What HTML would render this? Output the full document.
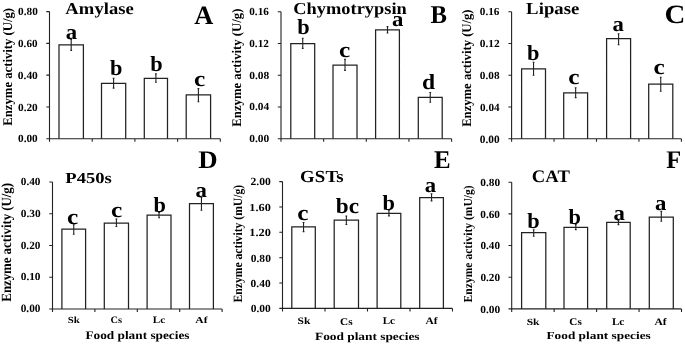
<!DOCTYPE html>
<html><head><meta charset="utf-8"><style>
html,body{margin:0;padding:0;background:#fff;overflow:hidden;}
svg{display:block;will-change:transform;}
#w{width:685px;height:345px;}
text{font-family:"Liberation Serif",serif;font-weight:bold;fill:#000;text-rendering:geometricPrecision;}
path{stroke:#222;stroke-width:1.1;fill:none;}
.bar{stroke-width:1.25;}
</style></head><body>
<div id="w"><svg width="685" height="345" viewBox="0 0 685 345">
<path class="bar" d="M59 138.75V44.9H83.4V138.75M101.5 138.75V83.3H125.7V138.75M144.3 138.75V78.3H167.5V138.75M186.2 138.75V94.8H210.6V138.75"/>
<path d="M49.5 11.6V138.75H220.3M46.3 138.75H49.5M46.3 106.96H49.5M46.3 75.17H49.5M46.3 43.39H49.5M46.3 11.6H49.5M49.5 138.75V141.75M92.2 138.75V141.75M134.9 138.75V141.75M177.6 138.75V141.75M220.3 138.75V141.75M71.2 39.4V50.4M70.3 39.4H72.1M70.3 50.4H72.1M113.6 78.3V88.1M112.7 78.3H114.5M112.7 88.1H114.5M155.9 73.9V82.3M155 73.9H156.8M155 82.3H156.8M198.4 88.6V101.7M197.5 88.6H199.3M197.5 101.7H199.3"/>
<path class="bar" d="M290.8 138.8V43.5H314.7V138.8M333 138.8V65.2H357V138.8M375.6 138.8V29.9H399.4V138.8M418.3 138.8V97.4H442.2V138.8"/>
<path d="M281 11.8V138.8H451.6M277.8 138.8H281M277.8 107.05H281M277.8 75.3H281M277.8 43.55H281M277.8 11.8H281M281 138.8V141.8M323.65 138.8V141.8M366.3 138.8V141.8M408.95 138.8V141.8M451.6 138.8V141.8M302.75 38.2V48.4M301.85 38.2H303.65M301.85 48.4H303.65M345 59.4V70.4M344.1 59.4H345.9M344.1 70.4H345.9M387.5 26.6V33M386.6 26.6H388.4M386.6 33H388.4M430.25 92.5V102.3M429.35 92.5H431.15M429.35 102.3H431.15"/>
<path class="bar" d="M521.6 138.8V68.9H545.5V138.8M563.7 138.8V92.8H587.6V138.8M606.6 138.8V38.5H630.6V138.8M648.7 138.8V84.2H672.8V138.8"/>
<path d="M511.6 11.8V138.8H681.4M508.4 138.8H511.6M508.4 107.05H511.6M508.4 75.3H511.6M508.4 43.55H511.6M508.4 11.8H511.6M511.6 138.8V141.8M554.05 138.8V141.8M596.5 138.8V141.8M638.95 138.8V141.8M681.4 138.8V141.8M533.55 62.3V75.3M532.65 62.3H534.45M532.65 75.3H534.45M575.65 87.7V97.6M574.75 87.7H576.55M574.75 97.6H576.55M618.6 33.7V44.7M617.7 33.7H619.5M617.7 44.7H619.5M660.75 77.3V91.2M659.85 77.3H661.65M659.85 91.2H661.65"/>
<path class="bar" d="M61.9 309V229.2H85.6V309M104.3 309V223.1H128.5V309M147.1 309V215.2H171V309M189.5 309V203.6H213.4V309"/>
<path d="M52.5 182V309H222.1M49.3 309H52.5M49.3 277.25H52.5M49.3 245.5H52.5M49.3 213.75H52.5M49.3 182H52.5M52.5 309V312M94.9 309V312M137.3 309V312M179.7 309V312M222.1 309V312M73.75 224.7V234.3M72.85 224.7H74.65M72.85 234.3H74.65M116.4 219V226.5M115.5 219H117.3M115.5 226.5H117.3M159.05 212.5V217.7M158.15 212.5H159.95M158.15 217.7H159.95M201.45 197.4V210.3M200.55 197.4H202.35M200.55 210.3H202.35"/>
<path class="bar" d="M291.8 308.4V226.8H315.3V308.4M334.2 308.4V220.1H358.5V308.4M377.1 308.4V213.4H400.8V308.4M419.7 308.4V197.6H443.4V308.4"/>
<path d="M282.5 181.6V308.4H452.5M279.3 308.4H282.5M279.3 283.04H282.5M279.3 257.68H282.5M279.3 232.32H282.5M279.3 206.96H282.5M279.3 181.6H282.5M282.5 308.4V311.4M325 308.4V311.4M367.5 308.4V311.4M410 308.4V311.4M452.5 308.4V311.4M303.55 222.5V231.6M302.65 222.5H304.45M302.65 231.6H304.45M346.35 216V224.5M345.45 216H347.25M345.45 224.5H347.25M388.95 210V215.9M388.05 210H389.85M388.05 215.9H389.85M431.55 193.8V200.9M430.65 193.8H432.45M430.65 200.9H432.45"/>
<path class="bar" d="M521.6 308.9V232.7H545.8V308.9M564 308.9V227.3H587.6V308.9M606.7 308.9V222.3H630.2V308.9M649.3 308.9V217.1H673.3V308.9"/>
<path d="M511.7 182.2V308.9H681.5M508.5 308.9H511.7M508.5 277.22H511.7M508.5 245.55H511.7M508.5 213.88H511.7M508.5 182.2H511.7M511.7 308.9V311.9M554.15 308.9V311.9M596.6 308.9V311.9M639.05 308.9V311.9M681.5 308.9V311.9M533.7 229.8V236.2M532.8 229.8H534.6M532.8 236.2H534.6M575.8 224.6V229.6M574.9 224.6H576.7M574.9 229.6H576.7M618.45 220.5V224.6M617.55 220.5H619.35M617.55 224.6H619.35M661.3 211.4V221.2M660.4 211.4H662.2M660.4 221.2H662.2"/>
<g><text id="t0" transform="translate(18.04 142.25) scale(0.05064 0.0500)" style="font-size:221.9px">0.00</text><text id="t1" transform="translate(18.03 110.77) scale(0.05137 0.0500)" style="font-size:218.7px">0.20</text><text id="t2" transform="translate(17.85 78.77) scale(0.05229 0.0500)" style="font-size:217.9px">0.40</text><text id="t3" transform="translate(18.01 46.95) scale(0.05114 0.0500)" style="font-size:218.5px">0.60</text><text id="t4" transform="translate(18.04 14.95) scale(0.05084 0.0500)" style="font-size:222.2px">0.80</text><text id="t5" transform="translate(65.73 38.79) scale(0.05250 0.0500)" style="font-size:432.0px">a</text><text id="t6" transform="translate(110.04 74.81) scale(0.05200 0.0500)" style="font-size:432.0px">b</text><text id="t7" transform="translate(150.21 70.57) scale(0.05200 0.0500)" style="font-size:432.0px">b</text><text id="t8" transform="translate(193.89 85.51) scale(0.05850 0.0500)" style="font-size:432.0px">c</text><text id="t9" transform="translate(65.30 14.36) scale(0.05596 0.0500)" style="font-size:334.3px">Amylase</text><text id="t10" transform="translate(194.21 23.74) scale(0.04941 0.0500)" style="font-size:530.5px">A</text><text id="t11" transform="translate(12.32 125.68) rotate(-90) scale(0.04792 0.0500)" style="font-size:264.9px">Enzyme activity (U/g)</text><text id="t12" transform="translate(249.25 142.01) scale(0.05240 0.0500)" style="font-size:217.4px">0.00</text><text id="t13" transform="translate(249.36 110.25) scale(0.05253 0.0500)" style="font-size:215.8px">0.04</text><text id="t14" transform="translate(249.25 78.56) scale(0.05245 0.0500)" style="font-size:218.0px">0.08</text><text id="t15" transform="translate(249.24 46.73) scale(0.05196 0.0500)" style="font-size:216.8px">0.12</text><text id="t16" transform="translate(249.25 15.01) scale(0.05163 0.0500)" style="font-size:216.5px">0.16</text><text id="t17" transform="translate(297.33 34.27) scale(0.05200 0.0500)" style="font-size:432.0px">b</text><text id="t18" transform="translate(338.91 56.68) scale(0.05850 0.0500)" style="font-size:432.0px">c</text><text id="t19" transform="translate(392.06 26.47) scale(0.05250 0.0500)" style="font-size:432.0px">a</text><text id="t20" transform="translate(421.98 88.62) scale(0.05500 0.0500)" style="font-size:432.0px">d</text><text id="t21" transform="translate(293.13 14.06) scale(0.05490 0.0500)" style="font-size:335.8px">Chymotrypsin</text><text id="t22" transform="translate(430.39 23.13) scale(0.04809 0.0500)" style="font-size:516.5px">B</text><text id="t23" transform="translate(240.63 126.68) rotate(-90) scale(0.04806 0.0500)" style="font-size:264.9px">Enzyme activity (U/g)</text><text id="t24" transform="translate(479.77 142.64) scale(0.05091 0.0500)" style="font-size:223.6px">0.00</text><text id="t25" transform="translate(479.98 110.84) scale(0.05125 0.0500)" style="font-size:219.6px">0.04</text><text id="t26" transform="translate(479.77 79.16) scale(0.05184 0.0500)" style="font-size:218.3px">0.08</text><text id="t27" transform="translate(479.84 47.11) scale(0.05227 0.0500)" style="font-size:216.6px">0.12</text><text id="t28" transform="translate(479.86 15.41) scale(0.05186 0.0500)" style="font-size:216.2px">0.16</text><text id="t29" transform="translate(527.04 60.13) scale(0.05200 0.0500)" style="font-size:432.0px">b</text><text id="t30" transform="translate(568.32 83.56) scale(0.05850 0.0500)" style="font-size:432.0px">c</text><text id="t31" transform="translate(612.50 30.74) scale(0.05250 0.0500)" style="font-size:432.0px">a</text><text id="t32" transform="translate(653.41 74.46) scale(0.05850 0.0500)" style="font-size:432.0px">c</text><text id="t33" transform="translate(526.09 13.97) scale(0.05603 0.0500)" style="font-size:336.0px">Lipase</text><text id="t34" transform="translate(664.38 23.35) scale(0.05465 0.0500)" style="font-size:528.5px">C</text><text id="t35" transform="translate(470.90 126.85) rotate(-90) scale(0.04778 0.0500)" style="font-size:264.9px">Enzyme activity (U/g)</text><text id="t36" transform="translate(20.69 312.40) scale(0.05006 0.0500)" style="font-size:226.1px">0.00</text><text id="t37" transform="translate(20.76 280.38) scale(0.05226 0.0500)" style="font-size:215.6px">0.10</text><text id="t38" transform="translate(20.71 248.69) scale(0.05119 0.0500)" style="font-size:221.2px">0.20</text><text id="t39" transform="translate(20.74 217.21) scale(0.05166 0.0500)" style="font-size:219.6px">0.30</text><text id="t40" transform="translate(20.76 185.22) scale(0.05170 0.0500)" style="font-size:217.5px">0.40</text><text id="t41" transform="translate(66.91 223.56) scale(0.05850 0.0500)" style="font-size:432.0px">c</text><text id="t42" transform="translate(110.91 217.06) scale(0.05850 0.0500)" style="font-size:432.0px">c</text><text id="t43" transform="translate(153.53 212.35) scale(0.05200 0.0500)" style="font-size:432.0px">b</text><text id="t44" transform="translate(195.50 197.18) scale(0.05250 0.0500)" style="font-size:432.0px">a</text><text id="t45" transform="translate(65.37 182.82) scale(0.06058 0.0500)" style="font-size:306.9px">P450s</text><text id="t46" transform="translate(198.30 167.69) scale(0.05264 0.0500)" style="font-size:510.1px">D</text><text id="t47" transform="translate(11.27 301.64) rotate(-90) scale(0.04549 0.0500)" style="font-size:281.2px">Enzyme activity (U/g)</text><text id="t48" transform="translate(67.80 323.16) scale(0.05805 0.0500)" style="font-size:187.6px">Sk</text><text id="t49" transform="translate(110.56 323.13) scale(0.05226 0.0500)" style="font-size:196.8px">Cs</text><text id="t50" transform="translate(152.80 323.18) scale(0.05675 0.0500)" style="font-size:196.7px">Lc</text><text id="t51" transform="translate(195.37 323.11) scale(0.06272 0.0500)" style="font-size:185.4px">Af</text><text id="t52" transform="translate(85.39 338.78) scale(0.05749 0.0500)" style="font-size:231.2px">Food plant species</text><text id="t53" transform="translate(250.71 312.10) scale(0.05210 0.0500)" style="font-size:221.2px">0.00</text><text id="t54" transform="translate(250.62 286.53) scale(0.05297 0.0500)" style="font-size:216.3px">0.40</text><text id="t55" transform="translate(250.71 261.60) scale(0.05207 0.0500)" style="font-size:221.5px">0.80</text><text id="t56" transform="translate(249.37 235.97) scale(0.05635 0.0500)" style="font-size:218.0px">1.20</text><text id="t57" transform="translate(249.34 210.69) scale(0.05647 0.0500)" style="font-size:216.9px">1.60</text><text id="t58" transform="translate(250.59 185.42) scale(0.05241 0.0500)" style="font-size:220.2px">2.00</text><text id="t59" transform="translate(297.32 219.56) scale(0.05850 0.0500)" style="font-size:432.0px">c</text><text id="t60" transform="translate(335.66 213.06) scale(0.05400 0.0500)" style="font-size:432.0px">bc</text><text id="t61" transform="translate(382.60 209.85) scale(0.05200 0.0500)" style="font-size:432.0px">b</text><text id="t62" transform="translate(424.73 192.49) scale(0.05250 0.0500)" style="font-size:432.0px">a</text><text id="t63" transform="translate(300.09 182.44) scale(0.05607 0.0500)" style="font-size:338.4px">GSTs</text><text id="t64" transform="translate(434.03 168.26) scale(0.04871 0.0500)" style="font-size:510.3px">E</text><text id="t65" transform="translate(242.27 302.46) rotate(-90) scale(0.04574 0.0500)" style="font-size:254.4px">Enzyme activity (mU/g)</text><text id="t66" transform="translate(297.56 324.16) scale(0.05829 0.0500)" style="font-size:195.7px">Sk</text><text id="t67" transform="translate(340.12 324.58) scale(0.05432 0.0500)" style="font-size:206.2px">Cs</text><text id="t68" transform="translate(382.67 324.17) scale(0.05400 0.0500)" style="font-size:205.8px">Lc</text><text id="t69" transform="translate(425.40 324.14) scale(0.05765 0.0500)" style="font-size:198.3px">Af</text><text id="t70" transform="translate(314.99 339.82) scale(0.06026 0.0500)" style="font-size:221.4px">Food plant species</text><text id="t71" transform="translate(480.25 312.75) scale(0.05240 0.0500)" style="font-size:217.4px">0.00</text><text id="t72" transform="translate(480.39 280.76) scale(0.05189 0.0500)" style="font-size:217.5px">0.20</text><text id="t73" transform="translate(480.38 248.72) scale(0.05200 0.0500)" style="font-size:215.7px">0.40</text><text id="t74" transform="translate(480.34 217.52) scale(0.05048 0.0500)" style="font-size:222.1px">0.60</text><text id="t75" transform="translate(480.23 185.56) scale(0.05201 0.0500)" style="font-size:219.3px">0.80</text><text id="t76" transform="translate(527.14 227.69) scale(0.05200 0.0500)" style="font-size:432.0px">b</text><text id="t77" transform="translate(568.53 224.29) scale(0.05200 0.0500)" style="font-size:432.0px">b</text><text id="t78" transform="translate(613.48 220.10) scale(0.05250 0.0500)" style="font-size:432.0px">a</text><text id="t79" transform="translate(654.93 209.62) scale(0.05250 0.0500)" style="font-size:432.0px">a</text><text id="t80" transform="translate(531.76 182.44) scale(0.05306 0.0500)" style="font-size:353.5px">CAT</text><text id="t81" transform="translate(666.18 167.55) scale(0.04742 0.0500)" style="font-size:510.1px">F</text><text id="t82" transform="translate(471.68 302.42) rotate(-90) scale(0.04718 0.0500)" style="font-size:245.6px">Enzyme activity (mU/g)</text><text id="t83" transform="translate(526.63 324.80) scale(0.06037 0.0500)" style="font-size:190.1px">Sk</text><text id="t84" transform="translate(569.33 325.06) scale(0.05415 0.0500)" style="font-size:207.6px">Cs</text><text id="t85" transform="translate(611.90 324.75) scale(0.05431 0.0500)" style="font-size:205.9px">Lc</text><text id="t86" transform="translate(654.42 324.71) scale(0.05828 0.0500)" style="font-size:197.3px">Af</text><text id="t87" transform="translate(546.43 339.27) scale(0.06178 0.0500)" style="font-size:215.6px">Food plant species</text></g>
</svg></div>
</body></html>
